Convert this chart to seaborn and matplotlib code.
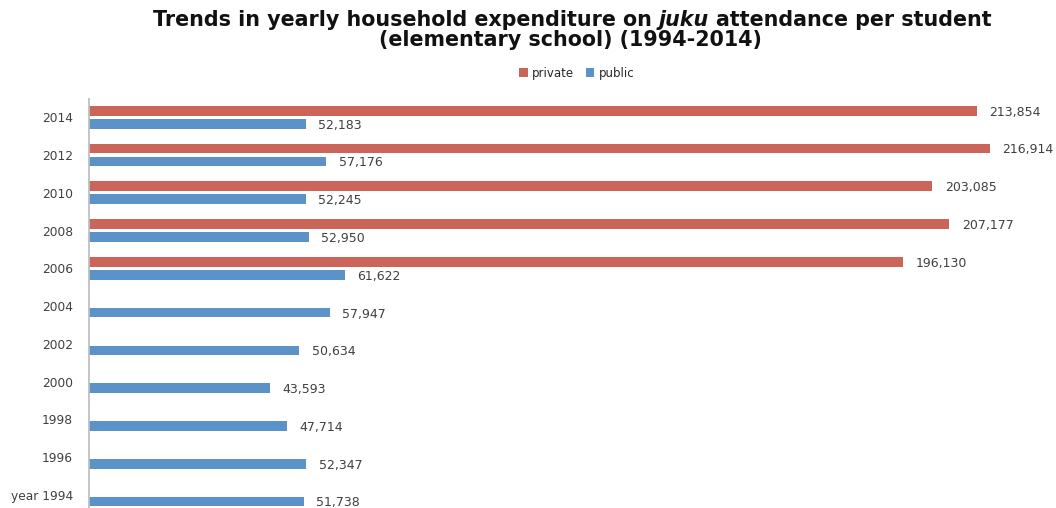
import pandas as pd
import seaborn as sns
import matplotlib.pyplot as plt
from matplotlib.patches import Patch

# Yearly household juku spending per elementary-school student (yen)
years = ["2014", "2012", "2010", "2008", "2006", "2004",
         "2002", "2000", "1998", "1996", "year 1994"]
private = [213854, 216914, 203085, 207177, 196130,
           None, None, None, None, None, None]
public = [52183, 57176, 52245, 52950, 61622, 57947,
          50634, 43593, 47714, 52347, 51738]
series = ["private", "public"]
colors = ["#CB6459", "#5B92C8"]

df = pd.DataFrame({
    "year": years * 2,
    "school": ["private"] * len(years) + ["public"] * len(years),
    "value": private + public,
}).dropna()

sns.set_theme(style="white")
plt.rcParams["font.family"] = ["DejaVu Sans"]

W, H = 1056, 508
fig = plt.figure(figsize=(W / 100, H / 100), dpi=100)
ax = fig.add_axes([89 / W, (H - 513.8) / H, 955 / W, 414.8 / H])

sns.barplot(data=df, y="year", x="value", hue="school", order=years,
            hue_order=series, palette=colors, saturation=1, orient="h",
            width=0.688, gap=0.25, legend=False, ax=ax,
            edgecolor="none")

ax.set_xlim(0, 230000)
ax.set_ylim(10.5, -0.485)
ax.set_xlabel("")
ax.set_ylabel("")
ax.set_xticks([])
for side in ("top", "right", "bottom"):
    ax.spines[side].set_visible(False)
ax.spines["left"].set_color("#BFBFBF")
ax.spines["left"].set_linewidth(1.3)
ax.tick_params(axis="y", length=0, pad=11.5, labelsize=8.8,
               labelcolor="#404040")

for cont in ax.containers:
    anns = ax.bar_label(cont, fmt="{:,.0f}", padding=9, fontsize=9,
                        color="#404040")
    # sit each value label a touch below its bar's centre line
    for a in anns:
        a.xyann = (a.xyann[0], a.xyann[1] - 1.0)

# Legend
handles = [Patch(facecolor=c, edgecolor="none", label=s)
           for c, s in zip(colors, series)]
fig.legend(handles=handles, loc="center", bbox_to_anchor=(577 / W, 1 - 73 / H),
           ncol=2, frameon=False, fontsize=8.5, handlelength=0.7,
           handleheight=0.7, handletextpad=0.4, columnspacing=1.0,
           labelcolor="#262626")

# Two-line title with the word "juku" in italics
fig.canvas.draw()
renderer = fig.canvas.get_renderer()


def text_width(s, **kw):
    t = fig.text(0, 0, s, **kw)
    w = t.get_window_extent(renderer).width
    t.remove()
    return w


base = dict(family="DejaVu Sans", weight="bold", color="#111111")
parts = [("Trends in yearly household expenditure on", "normal"),
         ("juku", "italic"),
         ("attendance per student", "normal")]


def line_width(size):
    kw = dict(base, size=size)
    sp = text_width("a a", **kw) - text_width("aa", **kw)
    ws = [text_width(p, style=st, **kw) for p, st in parts]
    return ws, sp


ws, sp = line_width(10)
size = 10 * 841 / (sum(ws) + 2 * sp)
ws, sp = line_width(size)
total = sum(ws) + 2 * sp
cx = 572
x = cx - total / 2
for (p, st), w in zip(parts, ws):
    fig.text(x / W, 1 - 25.5 / H, p, style=st, size=size, ha="left",
             va="baseline", **base)
    x += w + sp
fig.text(570 / W, 1 - 46 / H, "(elementary school) (1994-2014)", size=size,
         ha="center", va="baseline", **base)

fig.savefig("out.png", dpi=100)
